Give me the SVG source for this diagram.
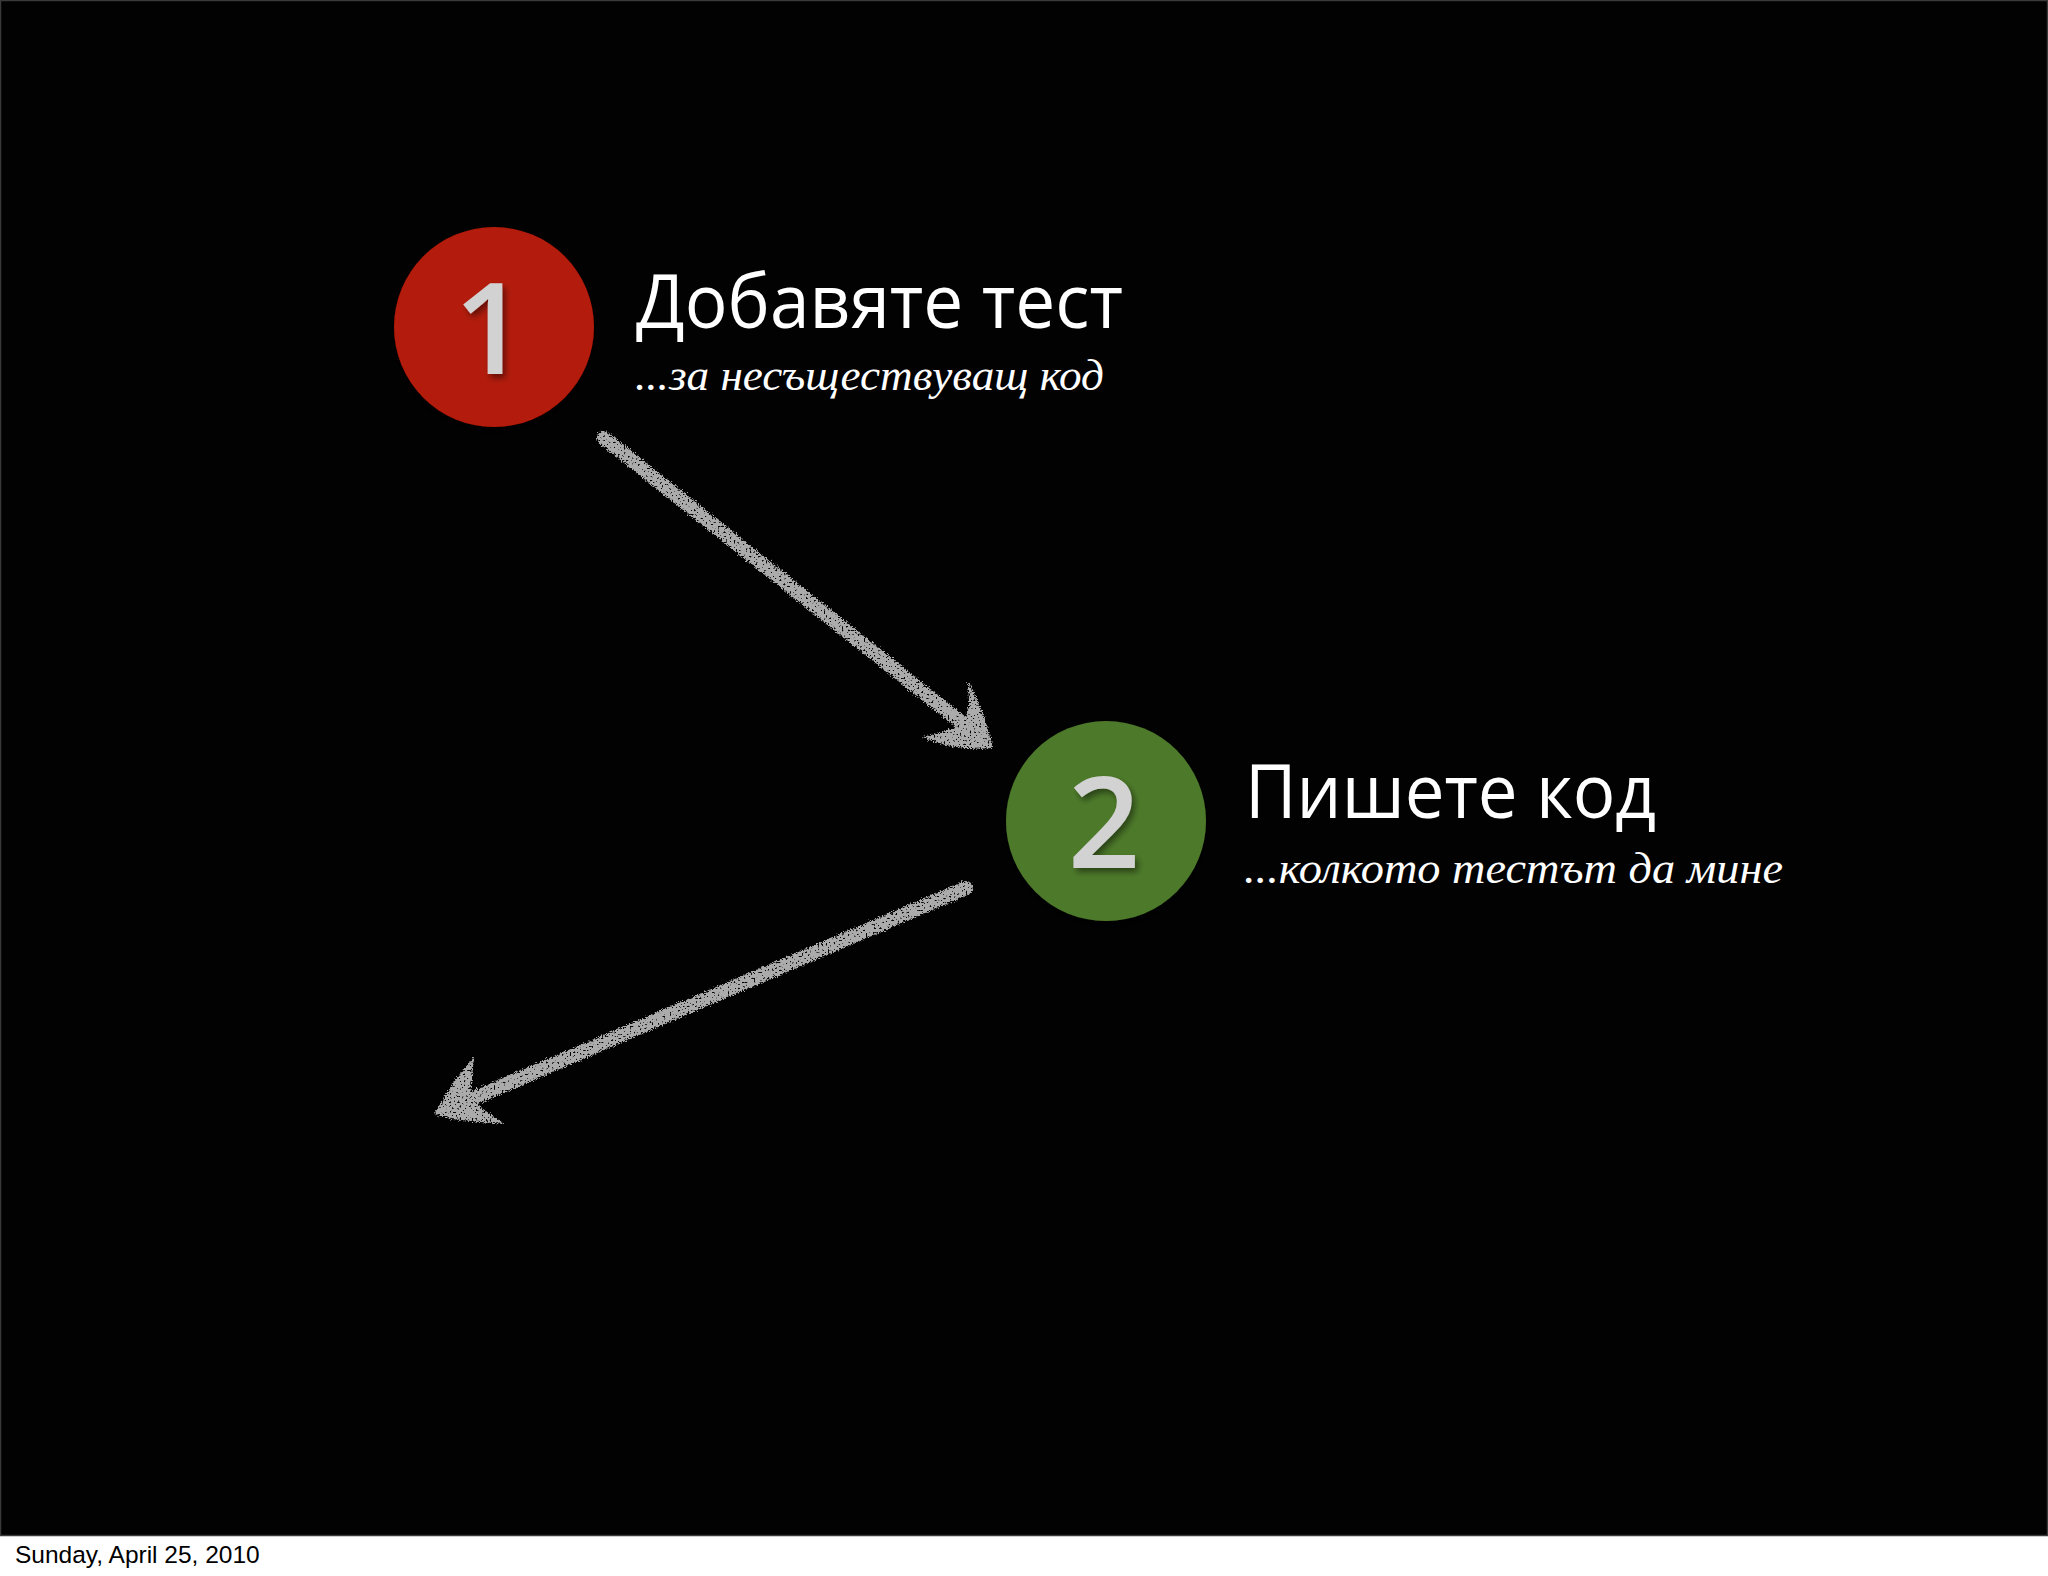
<svg xmlns="http://www.w3.org/2000/svg" width="2048" height="1576" viewBox="0 0 2048 1576">
  <defs>
    <style>
      .title { font-family: "Open Sans", "Noto Sans", "DejaVu Sans", sans-serif; font-size: 75px; fill: #ffffff; }
      .sub { font-family: "Liberation Serif", "DejaVu Serif", serif; font-style: italic; font-size: 44px; fill: #ffffff; }
      .num { font-family: "Open Sans", "Noto Sans", sans-serif; font-size: 127px; font-weight: 600; fill: #d2d2d2; text-anchor: middle; }
      .chalk-line { stroke: #ababab; stroke-width: 14; stroke-linecap: round; fill: none; }
      .chalk-head { fill: #ababab; }
    </style>
    <filter id="chalk" x="-10%" y="-10%" width="120%" height="120%">
      <feTurbulence type="fractalNoise" baseFrequency="0.8" numOctaves="2" seed="3" result="n"/>
      <feDisplacementMap in="SourceGraphic" in2="n" scale="7" xChannelSelector="R" yChannelSelector="G" result="d"/>
      <feTurbulence type="fractalNoise" baseFrequency="0.5" numOctaves="1" seed="11" result="n2"/>
      <feColorMatrix in="n2" type="matrix" values="0 0 0 0 0  0 0 0 0 0  0 0 0 0 0  -10 0 0 0 7.2" result="holes"/>
      <feComposite in="d" in2="holes" operator="in"/>
    </filter>
    <filter id="numShadow" x="-20%" y="-20%" width="140%" height="140%">
      <feDropShadow dx="3" dy="4" stdDeviation="3" flood-color="#000000" flood-opacity="0.45"/>
    </filter>
    <filter id="circShadow" x="-20%" y="-20%" width="140%" height="140%">
      <feDropShadow dx="0" dy="6" stdDeviation="8" flood-color="#000000" flood-opacity="0.6"/>
    </filter>
  </defs>

  <rect x="0" y="0" width="2048" height="1576" fill="#ffffff"/>
  <rect x="0.5" y="0.5" width="2047" height="1535" fill="#020203" stroke="#3a3a3a" stroke-width="1.5"/>

  <g id="node-1">
    <circle cx="494" cy="327" r="100" fill="#b31a08" filter="url(#circShadow)"/>
    <text class="num" x="490" y="374" filter="url(#numShadow)">1</text>
    <text class="title" x="636" y="328" textLength="487" lengthAdjust="spacingAndGlyphs">Добавяте тест</text>
    <text class="sub" x="635" y="390" textLength="469" lengthAdjust="spacingAndGlyphs">...за несъществуващ код</text>
  </g>

  <g id="node-2">
    <circle cx="1106" cy="821" r="100" fill="#4e7a2b" filter="url(#circShadow)"/>
    <text class="num" x="1104" y="868" filter="url(#numShadow)">2</text>
    <text class="title" x="1245" y="818" textLength="411" lengthAdjust="spacingAndGlyphs">Пишете код</text>
    <text class="sub" x="1244" y="883" textLength="539" lengthAdjust="spacingAndGlyphs">...колкото тестът да мине</text>
  </g>

  <g id="connectors" filter="url(#chalk)">
    <g id="arrow-1-2">
      <line class="chalk-line" x1="604" y1="438" x2="972" y2="731"/>
      <polygon class="chalk-head" points="993,748 984,716 968,680 969,704 966,716 956,727 940,733 922,737 945,745 970,749"/>
    </g>
    <g id="arrow-2-out">
      <line class="chalk-line" x1="966" y1="888" x2="455" y2="1106"/>
      <polygon class="chalk-head" points="434,1114 455,1080 474,1057 472,1078 470,1092 479,1106 504,1124 480,1122 452,1119"/>
    </g>
  </g>

  <text x="15" y="1563" font-family="Liberation Sans, Arial, sans-serif" font-size="24.5" fill="#000000">Sunday, April 25, 2010</text>
</svg>
